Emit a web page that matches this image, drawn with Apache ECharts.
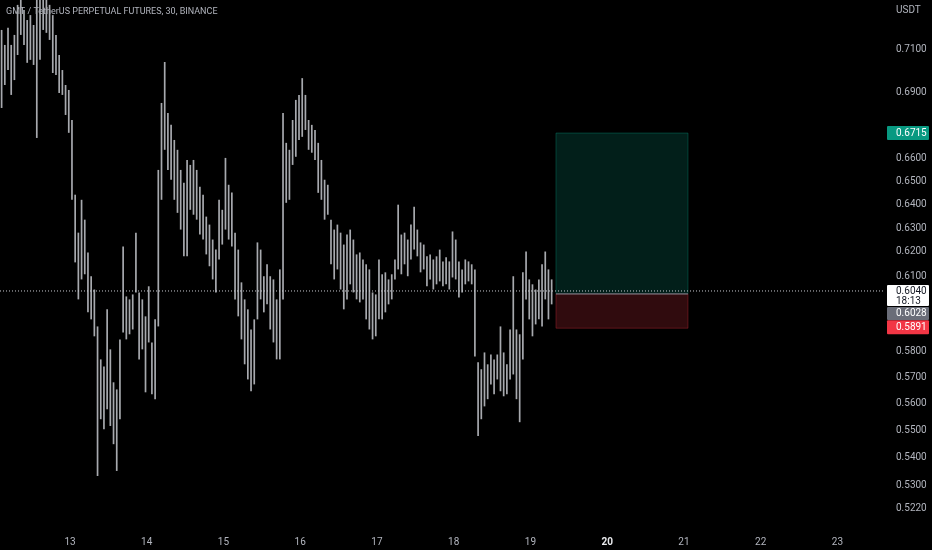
<!DOCTYPE html>
<html><head><meta charset="utf-8">
<script src="https://cdn.jsdelivr.net/npm/echarts@6/dist/echarts.min.js"></script>
<style>html,body{margin:0;padding:0;background:#000;} #main{width:932px;height:550px;}</style>
</head><body><div id="main"></div>
<script>
const chartTitle = 'GMT / TetherUS PERPETUAL FUTURES, 30, BINANCE';
const currency = 'USDT';
const firstBarDay = 12.109;
const barStepDays = 1 / 24;
const highs = [0.7196,0.7124,0.7206,0.7124,0.7172,0.7318,0.7367,0.7293,0.7244,0.7268,
0.7220,0.7367,0.7367,0.7342,0.7367,0.7318,0.7268,0.7172,0.7076,0.7005,
0.6935,0.6912,0.6774,0.6443,0.6281,0.6421,0.6336,0.6198,0.6100,0.6046,
0.5898,0.5769,0.5742,0.5966,0.5808,0.5681,0.5654,0.5847,0.6223,0.6018,
0.6006,0.6026,0.6281,0.6034,0.6006,0.5938,0.6059,0.5835,0.5926,0.6551,
0.6852,0.7043,0.6806,0.6752,0.6684,0.6640,0.6551,0.6495,0.6595,0.6573,
0.6595,0.6551,0.6477,0.6443,0.6349,0.6315,0.6252,0.6210,0.6421,0.6378,
0.6604,0.6486,0.6452,0.6281,0.6210,0.6075,0.6006,0.5966,0.5886,0.5926,
0.6240,0.6210,0.6100,0.6149,0.6100,0.6087,0.6006,0.6128,0.6806,0.6671,
0.6640,0.6774,0.6866,0.6889,0.6967,0.6889,0.6774,0.6752,0.6729,0.6671,
0.6595,0.6508,0.6486,0.6336,0.6294,0.6315,0.6281,0.6231,0.6273,0.6294,
0.6252,0.6190,0.6198,0.6169,0.6149,0.6128,0.6034,0.6026,0.6169,0.6108,
0.6116,0.6087,0.6108,0.6169,0.6400,0.6273,0.6281,0.6252,0.6315,0.6391,
0.6294,0.6240,0.6231,0.6182,0.6190,0.6169,0.6182,0.6210,0.6161,0.6178,
0.6161,0.6286,0.6252,0.6161,0.6128,0.6169,0.6161,0.6149,0.6128,0.5758,
0.5731,0.5796,0.5750,0.5788,0.5769,0.5788,0.5898,0.5796,0.5750,0.5886,
0.6100,0.5886,0.5867,0.6116,0.6202,0.6087,0.6067,0.6046,0.6087,0.6149,
0.6202,0.6128,0.6087];
const lows = [0.6829,0.6935,0.7005,0.6889,0.6958,0.7076,0.7172,0.7124,0.7039,0.7053,
0.7029,0.6693,0.7053,0.7196,0.7182,0.7148,0.6991,0.6982,0.6898,0.6889,
0.6797,0.6716,0.6421,0.6157,0.6006,0.6087,0.6108,0.5954,0.5926,0.5859,
0.5335,0.5542,0.5505,0.5579,0.5517,0.5450,0.5353,0.5542,0.5874,0.5847,
0.5867,0.5886,0.6034,0.5769,0.5808,0.5643,0.5835,0.5636,0.5617,0.5898,
0.6421,0.6640,0.6551,0.6508,0.6421,0.6365,0.6294,0.6182,0.6182,0.6378,
0.6357,0.6336,0.6273,0.6252,0.6190,0.6141,0.6087,0.6034,0.6169,0.6231,
0.6294,0.6252,0.6223,0.6006,0.5938,0.5847,0.5750,0.5692,0.5647,0.5673,
0.5926,0.6006,0.5954,0.5986,0.5886,0.5835,0.5769,0.5769,0.6006,0.6408,
0.6421,0.6573,0.6609,0.6684,0.6698,0.6729,0.6640,0.6627,0.6595,0.6451,
0.6421,0.6336,0.6357,0.6149,0.6087,0.6128,0.6046,0.5966,0.6006,0.6067,
0.6034,0.6006,0.5994,0.6006,0.5926,0.5886,0.5847,0.5859,0.5926,0.5926,
0.5954,0.5986,0.6006,0.6087,0.6128,0.6108,0.6149,0.6100,0.6169,0.6210,
0.6182,0.6116,0.6128,0.6059,0.6087,0.6046,0.6067,0.6079,0.6059,0.6067,
0.6046,0.6095,0.6087,0.6014,0.6034,0.6067,0.6079,0.6067,0.5780,0.5480,
0.5542,0.5590,0.5617,0.5673,0.5636,0.5692,0.5647,0.5628,0.5636,0.5692,
0.5711,0.5617,0.5531,0.5769,0.6006,0.5926,0.5859,0.5906,0.5926,0.5898,
0.6006,0.5926,0.5986];
const priceTicks = [0.71,0.69,0.66,0.65,0.64,0.63,0.62,0.61,0.58,0.57,0.56,0.55,0.54,0.53,0.522];
const dayTicks = [13,14,15,16,17,18,19,20,21,22,23];
const highlightDay = 20;
const lastPrice = 0.6040;
const countdown = '18:13';
const positionStartDay = 19.332, positionEndDay = 21.052;
const targetPrice = 0.6715, entryPrice = 0.6028, stopPrice = 0.5891;
const yMin = 0.5152, yMax = 0.7342, xMin = 12.088, xMax = 23.606;

const barData = highs.map((h, i) => [firstBarDay + i * barStepDays, h, lows[i]]);
const txt = '#b2b5be';
const font = 'Roboto, "Noto Sans", sans-serif';

const chart = echarts.init(document.getElementById('main'), null, {renderer: 'canvas'});
chart.setOption({
  backgroundColor: '#000000',
  animation: false,
  title: {text: chartTitle, left: 6, top: 7, padding: 0, z: 0,
    textStyle: {color: txt, fontSize: 9, fontWeight: 'normal', fontFamily: font}},
  grid: {left: 0, right: 48, top: 0, bottom: 22},
  xAxis: {
    type: 'value', min: xMin, max: xMax,
    axisLine: {show: false}, axisTick: {show: false}, splitLine: {show: false},
    axisLabel: {
      customValues: dayTicks, margin: 9, color: txt, fontSize: 10, fontFamily: font,
      formatter: v => Math.round(v) === highlightDay ? '{b|' + Math.round(v) + '}' : String(Math.round(v)),
      rich: {b: {color: '#e8e9ec', fontSize: 10, fontWeight: 'bold', fontFamily: font}}
    }
  },
  yAxis: {
    type: 'log', position: 'right', min: yMin, max: yMax,
    axisLine: {show: false}, axisTick: {show: false}, splitLine: {show: false},
    axisLabel: {customValues: priceTicks, margin: 12, color: txt, fontSize: 10, fontFamily: font,
      formatter: v => Number(v).toFixed(4)}
  },
  series: [{
    type: 'custom', clip: true, z: 3,
    data: barData,
    encode: {x: 0, y: [1, 2]},
    renderItem: (params, api) => {
      const x = api.value(0);
      const a = api.coord([x, api.value(1)]);
      const b = api.coord([x, api.value(2)]);
      return {type: 'line', shape: {x1: a[0], y1: a[1], x2: b[0], y2: b[1]},
        style: {stroke: '#a7a9ae', lineWidth: 1.7}};
    },
    markArea: {
      silent: true,
      data: [
        [{xAxis: positionStartDay, yAxis: targetPrice, itemStyle: {color: 'rgba(8,153,129,0.2)', borderColor: 'rgba(8,153,129,0.35)', borderWidth: 1}},
         {xAxis: positionEndDay, yAxis: entryPrice}],
        [{xAxis: positionStartDay, yAxis: entryPrice, itemStyle: {color: 'rgba(242,54,69,0.2)', borderColor: 'rgba(242,54,69,0.3)', borderWidth: 1}},
         {xAxis: positionEndDay, yAxis: stopPrice}]
      ]
    }
  }, {
    type: 'line', z: 4, silent: true, symbol: 'none',
    data: [[positionStartDay, entryPrice], [positionEndDay, entryPrice]],
    lineStyle: {color: '#787b86', width: 1}
  }, {
    type: 'line', z: 5, silent: true, symbol: 'none',
    data: [[xMin, lastPrice], [xMax, lastPrice]],
    lineStyle: {color: '#c8cad0', width: 1, type: [1, 2]}
  }]
});

const yOf = v => chart.convertToPixel({yAxisIndex: 0}, v);
const tagX = 887, tagW = 42, textX = 896;
const yT = yOf(targetPrice), yL = yOf(lastPrice), yS = yOf(stopPrice);
const tag = (y, h, fill, lines, color) => {
  const els = [{type: 'rect', shape: {x: tagX, y: y, width: tagW, height: h, r: 1}, style: {fill: fill}}];
  lines.forEach((t, k) => els.push({type: 'text', x: textX, y: y + 7 + k * 10,
    style: {text: t, fill: color, font: '10px ' + font, verticalAlign: 'middle', align: 'left'}}));
  return els;
};
chart.setOption({graphic: [].concat(
  [{type: 'text', x: textX, y: 10, style: {text: currency, fill: txt, font: '10px ' + font, verticalAlign: 'middle'}}],
  tag(yT - 7, 14, '#089981', [targetPrice.toFixed(4)], '#ffffff'),
  tag(yL - 6, 21, '#ffffff', [lastPrice.toFixed(4), countdown], '#131722'),
  tag(yL + 16, 13, '#6a6d78', [entryPrice.toFixed(4)], '#ffffff'),
  tag(yS - 8, 14, '#f23645', [stopPrice.toFixed(4)], '#ffffff')
)});
</script>
</body></html>
